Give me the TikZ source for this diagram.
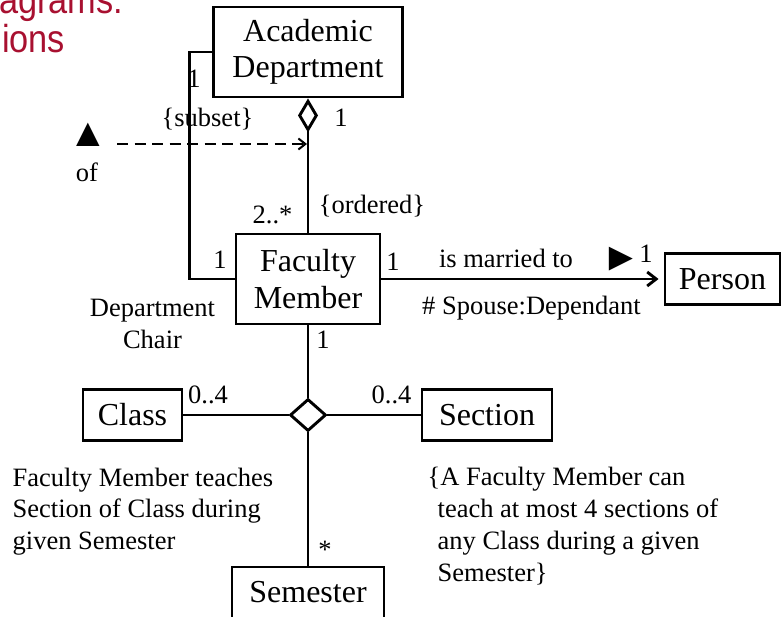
\documentclass[tikz,border=0pt]{standalone}
\usepackage{fontspec}
\setmainfont{Liberation Serif}
\newfontfamily\titlefont{Liberation Sans}
\usetikzlibrary{arrows.meta,shapes.geometric}
\definecolor{titlered}{RGB}{168,16,48}
\tikzset{
  classbox/.style={draw, line width=2.9pt, align=center, inner sep=0pt,
    font=\fontsize{32}{36.5}\selectfont},
  assoc/.style={line width=2.9pt},
  lbl/.style={inner sep=0pt, anchor=base, font=\fontsize{26.5}{31.7}\selectfont},
  bigsym/.style={inner sep=0pt, anchor=base, font=\fontsize{40}{40}\selectfont},
  slidetitle/.style={inner sep=0pt, anchor=base west, text=titlered,
    font=\titlefont\fontsize{39}{39}\selectfont, xscale=0.88, transform shape}
}
\begin{document}
\begin{tikzpicture}[x=1pt,y=-1pt]
  \useasboundingbox (0,0) rectangle (781,616);
  \clip (0,0) rectangle (781,616);

  % slide title, cut by the frame
  \node[slidetitle] (titleone) at (-1,13) {agrams:};
  \node[slidetitle] (titletwo) at (2,52) {ions};

  % classes
  \node[classbox, minimum width=189pt, minimum height=90pt] (dept) at (308,52) {Academic\\Department};
  \node[classbox, minimum width=144pt, minimum height=90pt] (fm) at (308,279) {Faculty\\Member};
  \node[classbox, minimum width=115pt, minimum height=51pt] (person) at (722.5,279) {Person};
  \node[classbox, minimum width=99pt, minimum height=51pt] (class) at (132.5,415) {Class};
  \node[classbox, minimum width=130pt, minimum height=51pt] (section) at (487,415) {Section};
  \node[classbox, minimum width=152pt, minimum height=51pt] (semester) at (308,592.5) {Semester};

  % n-ary association
  \node[draw, diamond, line width=2.9pt, inner sep=0pt, fill=white,
    minimum width=36pt, minimum height=32pt] (nary) at (308,415) {};

  % aggregation
  \draw[assoc, {Diamond[open, length=34pt, width=20pt]}-] (dept.south) -- (fm.north);

  % department chair
  \draw[assoc] (dept.west) -- ++(-23,0) |- (fm.west);

  % is married to
  \draw[assoc, -{Straight Barb[length=9pt, width=14pt]}, shorten >=5pt] (fm.east) -- (person.west);

  % subset of
  \coordinate (subsetfrom) at (117,144);
  \coordinate (subsetto) at (307,144);
  \draw[line width=2pt, dash pattern=on 11pt off 6.5pt,
    -{Straight Barb[length=7pt, width=11pt]}] (subsetfrom) -- (subsetto);

  % teaches
  \draw[assoc] (fm.south) -- (nary.north);
  \draw[assoc] (class.east) -- (nary.west);
  \draw[assoc] (nary.east) -- (section.west);
  \draw[assoc] (nary.south) -- (semester.north);

  % multiplicities and labels
  \node[lbl] (chairone) at (194,87) {1};
  \node[lbl] (subset) at (207.5,126) {\{subset\}};
  \node[lbl] (deptone) at (341,126) {1};
  \node[bigsym] (uptri) at (88,146) {▲};
  \node[lbl] (of) at (87,181) {of};
  \node[lbl] (twostar) at (272.5,223) {2..*};
  \node[lbl] (ordered) at (372,213) {\{ordered\}};
  \node[lbl] (fmleft) at (220,268) {1};
  \node[lbl] (fmright) at (393,270) {1};
  \node[lbl] (married) at (506,267) {is married to};
  \node[bigsym] (rtri) at (621,270) {►};
  \node[lbl] (personone) at (646,262) {1};
  \node[lbl] (spouse) at (531.5,314) {\# Spouse:Dependant};
  \node[lbl, align=center] (chair) at (152.5,348) {Department\\Chair};
  \node[lbl] (fmbelow) at (323,348) {1};
  \node[lbl] (classmult) at (208,403) {0..4};
  \node[lbl] (sectionmult) at (391.5,403) {0..4};
  \node[lbl] (semstar) at (325,558) {*};

  % notes
  \node[lbl, anchor=base west, align=left] (teachnote) at (12.5,549.5)
    {Faculty Member teaches\\Section of Class during\\given Semester};
  \node[lbl, anchor=base west, align=left] (limitnote) at (427.5,581)
    {\{A Faculty Member can\\\hspace*{10pt}teach at most 4 sections of\\\hspace*{10pt}any Class during a given\\\hspace*{10pt}Semester\}};
\end{tikzpicture}
\end{document}
